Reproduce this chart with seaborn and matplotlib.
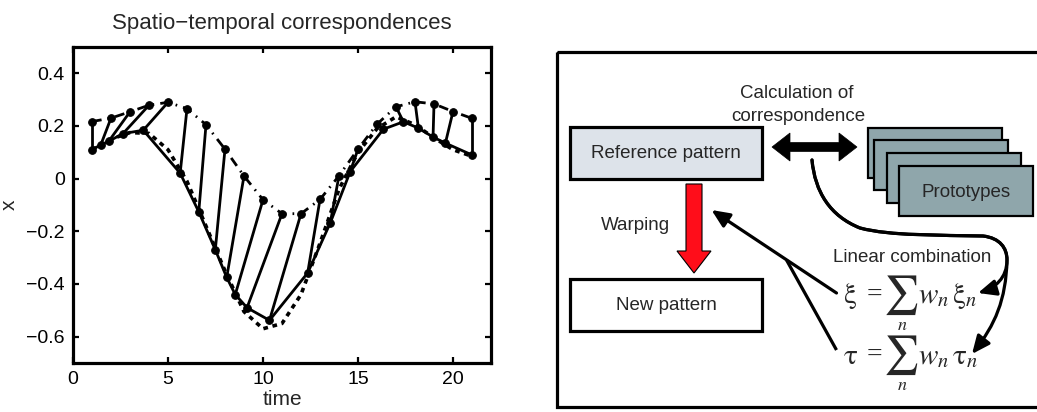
import numpy as np
import pandas as pd
import seaborn as sns
import matplotlib
matplotlib.use("Agg")
import matplotlib.pyplot as plt
from matplotlib.patches import Rectangle, Polygon, FancyArrowPatch
from matplotlib.path import Path

# ---------------------------------------------------------------- data
# reference trajectory, sampled at integer time steps
ref_time = list(range(1, 22))
ref_x = [0.217, 0.230, 0.254, 0.279, 0.290, 0.266, 0.205, 0.112, 0.010, -0.080,
         -0.133, -0.133, -0.079, 0.011, 0.112, 0.207, 0.273, 0.292, 0.284, 0.255, 0.229]

# corresponding points found on the warped pattern
warp_time = [1.0, 1.46, 1.88, 2.63, 3.70, 5.64, 6.62, 7.49, 8.09, 8.54, 9.16,
             10.34, 12.35, 13.54, 14.59, 16.34, 17.39, 18.18, 18.95, 19.60, 21.0]
warp_x = [0.110, 0.128, 0.142, 0.171, 0.184, 0.021, -0.126, -0.270, -0.375, -0.440, -0.490,
          -0.538, -0.358, -0.168, 0.027, 0.188, 0.216, 0.192, 0.158, 0.135, 0.090]

# target trajectory
target_time = list(range(1, 22))
target_x = [0.110, 0.150, 0.175, 0.172, 0.110, -0.010, -0.180, -0.350, -0.505, -0.570, -0.550,
            -0.440, -0.245, -0.040, 0.100, 0.190, 0.235, 0.205, 0.155, 0.110, 0.085]

x_ticks = [0, 5, 10, 15, 20]
y_ticks = [-0.6, -0.4, -0.2, 0.0, 0.2, 0.4]
y_tick_labels = ["\u22120.6", "\u22120.4", "\u22120.2", "0", "0.2", "0.4"]

# ---------------------------------------------------------------- style
sns.set_style("ticks")
plt.rcParams["font.family"] = ["Liberation Sans", "DejaVu Sans"]
plt.rcParams["mathtext.fontset"] = "stix"

W, H = 1037, 412
fig = plt.figure(figsize=(W / 100, H / 100), dpi=100)
fig.patch.set_facecolor("white")

# ---------------------------------------------------------------- diagram (pixel coordinates)
dg = fig.add_axes([0, 0, 1, 1])
dg.set_xlim(0, W)
dg.set_ylim(H, 0)
dg.axis("off")
dg.patch.set_visible(False)

dg.add_patch(Rectangle((557, 52), 500, 355, fill=False, lw=2.3, ec="black"))

dg.add_patch(Rectangle((570, 127), 192, 52, fc="#dde3ea", ec="black", lw=2.3))
dg.text(666, 154, "Reference pattern", ha="center", va="center", fontsize=13.5)

dg.add_patch(Rectangle((570, 279), 192, 52, fc="white", ec="black", lw=2.3))
dg.text(666, 306, "New pattern", ha="center", va="center", fontsize=13.5)

# prototype stack
for dx, dy in [(868, 128), (874, 140), (887, 153), (899, 166)]:
    dg.add_patch(Rectangle((dx, dy), 134, 50, fc="#8fa6ab", ec="black", lw=1.6))
dg.text(966, 192, "Prototypes", ha="center", va="center", fontsize=13.5)

dg.text(797, 93, "Calculation of", ha="center", va="center", fontsize=13.5)
dg.text(798, 116, "correspondence", ha="center", va="center", fontsize=13.5)

# double-headed arrow
cx, cy = 814.5, 147
hl, hw, sw, half = 18, 14, 4.5, 42.5
dg.add_patch(Polygon([
    (cx - half, cy), (cx - half + hl, cy - hw), (cx - half + hl, cy - sw),
    (cx + half - hl, cy - sw), (cx + half - hl, cy - hw), (cx + half, cy),
    (cx + half - hl, cy + hw), (cx + half - hl, cy + sw), (cx - half + hl, cy + sw),
    (cx - half + hl, cy + hw)], closed=True, fc="black", ec="black", lw=0.5))

# red warping arrow
dg.add_patch(Polygon([
    (686, 184), (702, 184), (702, 251), (711, 251), (694, 273), (677, 251), (686, 251)],
    closed=True, fc="#ff0d1a", ec="black", lw=0.8))
dg.text(635, 225, "Warping", ha="center", va="center", fontsize=13.5)

dg.text(912, 257, "Linear combination", ha="center", va="center", fontsize=13.5)

# the two weighted sums: symbol, equals sign, large sigma with index, then terms
for lhs, term, yc in [(r"$\mathrm{\xi}$", r"$w_n\,\mathrm{\xi}_n$", 296),
                      (r"$\mathrm{\tau}$", r"$w_n\,\mathrm{\tau}_n$", 356)]:
    dg.text(850, yc, lhs, ha="center", va="center", fontsize=21)
    dg.text(874, yc - 1, "=", ha="center", va="center", fontsize=20,
            family="Liberation Serif")
    dg.text(901, yc - 1, r"$\sum$", ha="center", va="center", fontsize=28)
    dg.text(902, yc + 30, r"$n$", ha="center", va="center", fontsize=13)
    dg.text(918, yc, term, ha="left", va="center", fontsize=21)

# curved arrows from the correspondence to the two sums
trunk = [(812, 160), (815, 192), (830, 216), (860, 228),
         (890, 236), (940, 235), (983, 236),
         (1000, 238), (1007, 248), (1007, 260)]
trunk_codes = [Path.MOVETO] + [Path.CURVE4] * 9
for tail in ([(1007, 278), (995, 288), (978, 293)],
             [(1006, 300), (995, 325), (972, 354)]):
    p = Path(trunk + tail, trunk_codes + [Path.CURVE4] * 3)
    dg.add_patch(FancyArrowPatch(path=p, arrowstyle="-|>,head_length=0.9,head_width=0.4",
                                 mutation_scale=12, lw=2.3, color="black",
                                 shrinkA=0, shrinkB=0))

dg.annotate("", xy=(711.5, 210), xytext=(836.5, 293),
            arrowprops=dict(arrowstyle="-|>,head_length=0.9,head_width=0.4",
                            mutation_scale=12, lw=2.3, color="black",
                            shrinkA=0, shrinkB=0))
dg.plot([836.5, 786.5], [350, 260], color="black", lw=2.3, solid_capstyle="butt")

# ---------------------------------------------------------------- time series panel
ax = fig.add_axes([73 / W, (H - 363) / H, 418 / W, 316 / H])

# pairs of corresponding points
pairs = pd.DataFrame({
    "time": ref_time + warp_time,
    "x": ref_x + warp_x,
    "pair": list(range(len(ref_time))) * 2,
})
sns.lineplot(data=pairs, x="time", y="x", units="pair", estimator=None, sort=False,
             color="black", lw=2.0, ax=ax, zorder=3)

sns.lineplot(x=target_time, y=target_x, color="black", lw=2.6,
             linestyle=(0, (1.3, 1.3)), ax=ax, zorder=2)
sns.lineplot(x=ref_time, y=ref_x, color="black", lw=2.0, marker="o", markersize=5.5,
             markeredgecolor="black", linestyle=(0, (3.5, 2.2, 0.6, 2.2)), ax=ax, zorder=4)
sns.lineplot(x=warp_time, y=warp_x, color="black", lw=2.0, marker="o", markersize=5.5,
             markeredgecolor="black", sort=False, ax=ax, zorder=4)

ax.set_xlim(0, 22)
ax.set_ylim(-0.7, 0.5)
ax.set_xticks(x_ticks)
ax.set_xticklabels([str(v) for v in x_ticks])
ax.set_yticks(y_ticks)
ax.set_yticklabels(y_tick_labels)
ax.tick_params(direction="in", length=4, width=1.6, top=True, right=True,
               labelsize=14, pad=6, colors="black")
for s in ax.spines.values():
    s.set_linewidth(2.3)
    s.set_color("black")
ax.set_title("Spatio\u2212temporal correspondences", fontsize=16, pad=13)
ax.set_xlabel("time", fontsize=15, labelpad=1)
ax.set_ylabel("x", fontsize=15, labelpad=5)

fig.savefig("out.png", dpi=100, facecolor="white")
